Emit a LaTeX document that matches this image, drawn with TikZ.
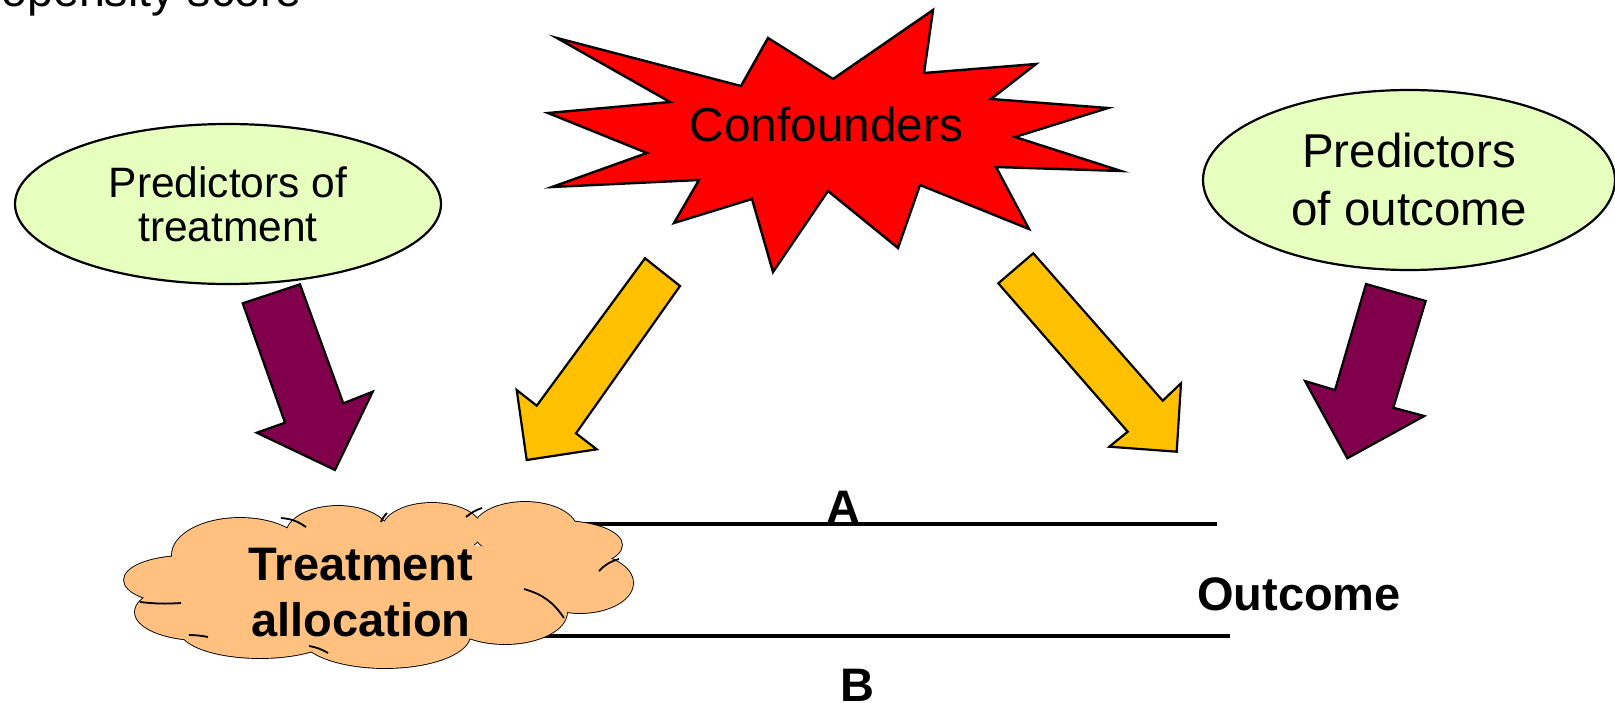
\documentclass[tikz,border=0pt]{standalone}
\usepackage{fontspec}
\setmainfont{Liberation Sans}
\usetikzlibrary{shapes.geometric}

\definecolor{burst}{RGB}{255,0,0}
\definecolor{leaf}{RGB}{230,255,190}
\definecolor{plum}{RGB}{128,0,76}
\definecolor{amber}{RGB}{255,192,0}
\definecolor{peach}{RGB}{255,192,128}

\newcommand\sizeA{\fontsize{47}{56}\selectfont}
\newcommand\sizeB{\fontsize{42.5}{44}\selectfont}

\begin{document}
\begin{tikzpicture}[x=1pt,y=-1pt,
  blob/.style={ellipse,draw,line width=2.2pt,fill=leaf,inner sep=0pt,align=center},
  fatarrow/.style={draw,line width=2.2pt,line join=miter},
  cloudpart/.style={draw,line width=1.8pt,fill=peach},
  crease/.style={line width=1.8pt},
  lbl/.style={inner sep=0pt,font=\sizeA\bfseries}]
  \useasboundingbox (0,0) rectangle (1615,702);
  \begin{scope}
    \clip (0,0) rectangle (1615,702);
    \node[anchor=base east,inner sep=0pt,font=\fontsize{46.6}{56}\selectfont] (title) at (302,6.5) {Propensity score};
  \end{scope}

  % block arrows
  \draw[fatarrow,fill=plum] (242.7,303.3) -- (300,284.3) -- (343.3,403.3) -- (372.7,391.7)
    -- (335,470) -- (256.7,432.7) -- (285,422.7) -- cycle;
  \draw[fatarrow,fill=amber] (645,258.3) -- (680,286) -- (576,433.3) -- (596.7,449.3)
    -- (526.7,460) -- (516.7,390) -- (536.7,405.7) -- cycle;
  \draw[fatarrow,fill=amber] (998.3,283.3) -- (1033.3,253.3) -- (1162.7,400.7) -- (1181,383.3)
    -- (1176.7,451.7) -- (1109.3,446.7) -- (1127.7,431.7) -- cycle;
  \draw[fatarrow,fill=plum] (1366,284) -- (1425.7,301) -- (1393.3,407.7) -- (1424.3,416)
    -- (1347.3,458.3) -- (1305,381) -- (1335,390) -- cycle;

  % explosion
  \draw[line width=2.4pt,line join=miter,fill=burst]
    (557,38) -- (741,86) -- (768,38) -- (833,79) -- (933,10) -- (924,73) -- (1036,64) -- (991,99)
    -- (1108,108) -- (1015,137) -- (1121,171) -- (996,167) -- (1029,229) -- (920,185) -- (898,248)
    -- (828,191) -- (773,272) -- (752,199) -- (674,223) -- (699,180) -- (552,187) -- (647,153)
    -- (548,113) -- (670,102) -- cycle;
  \node[anchor=base,inner sep=0pt,font=\fontsize{47.7}{56}\selectfont] (conf) at (826.5,141.7) {Confounders};

  \node[blob,minimum width=426,minimum height=160,font=\sizeB] (predT) at (228,204) {Predictors of\\treatment};
  \node[blob,minimum width=412,minimum height=180,font=\fontsize{47.5}{58}\selectfont] (predO) at (1409,180) {Predictors\\of outcome};

  % arms
  \coordinate (armA) at (540,524);  \coordinate (endA) at (1216.7,524);
  \coordinate (armB) at (540,636);  \coordinate (endB) at (1230,636);
  \draw[line width=4.8pt] (armA) -- (endA);
  \draw[line width=4.8pt] (armB) -- (endB);

  % cloud
  \foreach \cx/\cy/\rx/\ry in {185/580/61/24, 200/612/65/28, 260/630/80/28, 385/635/85/33,
      505/612/62/32, 580/583/53/30, 560/545/62/24, 525/530/52/28, 432/530/50/27,
      338/535/52/29, 240/555/68/37}
    \path[cloudpart] (\cx,\cy) ellipse [x radius=\rx, y radius=\ry];
  \foreach \cx/\cy/\rx/\ry in {185/580/61/24, 200/612/65/28, 260/630/80/28, 385/635/85/33,
      505/612/62/32, 580/583/53/30, 560/545/62/24, 525/530/52/28, 432/530/50/27,
      338/535/52/29, 240/555/68/37, 380/585/200/45}
    \fill[peach] (\cx,\cy) ellipse [x radius=\rx, y radius=\ry];
  \draw[crease] (281,518) to[bend left=15] (306,527);
  \draw[crease] (381,522) to[bend left=10] (387,513);
  \draw[crease] (466,517) to[bend left=10] (482,508);
  \draw[crease] (599,571) to[bend left=15] (619,559);
  \draw[crease] (524,589) to[bend left=20] (564,618);
  \draw[crease] (309,646) to[bend left=10] (328,653);
  \draw[crease] (189,635) to[bend left=5] (208,637);
  \draw[crease] (140,602) to[bend right=5] (181,603);

  \node[lbl,align=center] (alloc) at (361,593) {Treatment\\allocation};
  \node[lbl,anchor=base] (outc) at (1299,610) {Outcome};
  \node[lbl,anchor=base] (labA) at (843,523) {A};
  \node[lbl,anchor=base] (labB) at (857.5,701.5) {B};
\end{tikzpicture}
\end{document}
